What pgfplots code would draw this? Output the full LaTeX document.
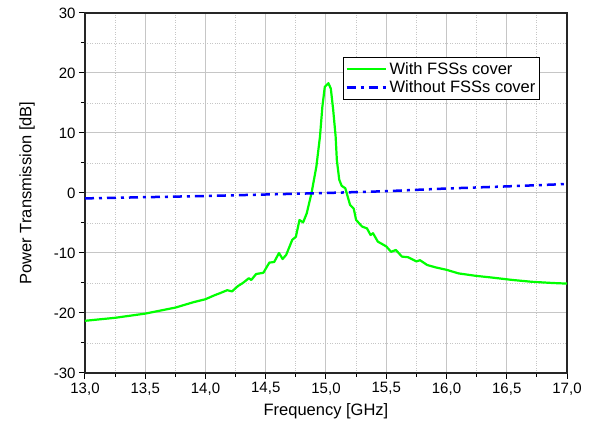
\documentclass[border=0pt]{standalone}
\usepackage{fontspec}
\setmainfont{Liberation Sans}
\usepackage{pgfplots}
\pgfplotsset{compat=1.18}
\begin{document}
\begin{tikzpicture}
\begin{axis}[
  scale only axis,
  width=482pt, height=360pt,
  xmin=13, xmax=17, ymin=-30, ymax=30,
  xtick={13,13.5,...,17}, ytick={-30,-20,...,30},
  minor x tick num=1, minor y tick num=1,
  tick pos=left, tick align=outside,
  major tick length=6pt, minor tick length=4pt,
  every tick/.style={black, line width=1pt},
  axis line style={line width=1.3pt, black!85},
  grid=both,
  major grid style={gray!45, line width=1pt},
  minor grid style={gray!45, dotted, line width=0.8pt},
  /pgf/number format/assume math mode=true,
  xticklabel style={/pgf/number format/.cd, fixed, fixed zerofill, precision=1, use comma},
  yticklabel style={/pgf/number format/.cd, fixed, precision=0},
  ticklabel style={font=\fontsize{15}{18}\selectfont},
  xlabel={Frequency [GHz]}, ylabel={Power Transmission [dB]},
  label style={font=\fontsize{16.5}{19}\selectfont},
  xlabel style={yshift=-2pt},
  ylabel style={yshift=12pt},
  legend style={at={(0.535,0.878)}, anchor=north west, draw=black, line width=0.8pt,
    font=\fontsize{16.5}{19}\selectfont, inner xsep=2pt, inner ysep=3pt, row sep=1pt},
  legend cell align=left,
  legend image code/.code={\draw[#1] (0cm,0cm) -- (1.4cm,0cm);},
]
\addplot[color={rgb,1:red,0;green,1;blue,0}, line width=2.2pt, line join=round] coordinates {
(13.00,-21.3) (13.25,-20.8) (13.50,-20.1) (13.75,-19.1) (13.90,-18.2) (14.00,-17.7)
(14.08,-17.0) (14.12,-16.7) (14.18,-16.2) (14.22,-16.4) (14.27,-15.5) (14.31,-15.0)
(14.36,-14.2) (14.38,-14.5) (14.42,-13.5) (14.48,-13.3) (14.53,-11.6) (14.57,-11.5)
(14.61,-10.0) (14.64,-11.0) (14.67,-10.3) (14.72,-7.8) (14.75,-7.3) (14.78,-4.5)
(14.81,-4.9) (14.84,-3.4) (14.88,0.0) (14.92,4.4) (14.95,9.4) (14.97,14.4)
(14.99,17.7) (15.02,18.3) (15.04,17.4) (15.06,13.8) (15.08,9.4) (15.09,5.5)
(15.11,2.2) (15.13,1.2) (15.16,0.8) (15.18,-0.6) (15.20,-2.0) (15.23,-2.6)
(15.25,-4.5) (15.30,-5.6) (15.34,-5.9) (15.37,-7.0) (15.39,-6.7) (15.43,-8.1)
(15.50,-8.9) (15.54,-9.8) (15.58,-9.5) (15.63,-10.6) (15.68,-10.7) (15.75,-11.4)
(15.78,-11.2) (15.84,-12.0) (15.91,-12.4) (16.00,-12.8) (16.10,-13.4) (16.24,-13.8)
(16.38,-14.1) (16.55,-14.5) (16.71,-14.8) (16.88,-15.0) (17.00,-15.1)
};
\addlegendentry{With FSSs cover}
\addplot[color={rgb,1:red,0;green,0;blue,1}, line width=2.5pt,
  dash pattern=on 9pt off 5pt on 3pt off 5pt] coordinates {
(13.0,-0.9) (13.5,-0.7) (14.0,-0.5) (14.5,-0.25) (15.0,0.0) (15.5,0.3)
(16.0,0.75) (16.5,1.1) (17.0,1.5)
};
\addlegendentry{Without FSSs cover}
\end{axis}
\pgfresetboundingbox
\path ([xshift=-85pt,yshift=-60pt]current axis.south west) rectangle ([xshift=35pt,yshift=13pt]current axis.north east);
\end{tikzpicture}
\end{document}
